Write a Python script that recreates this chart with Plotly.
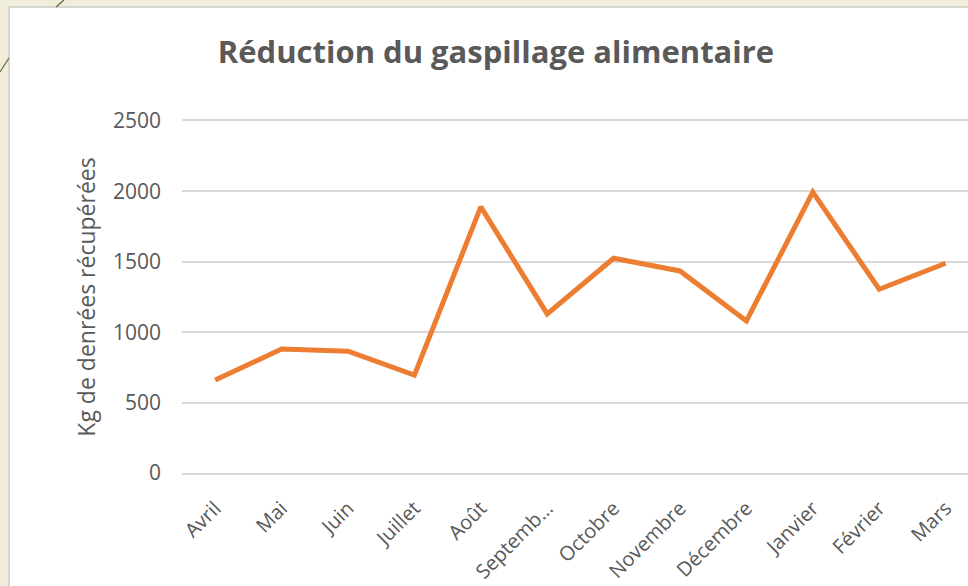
import plotly.graph_objects as go

# Monthly food recovered (kg)
months = ["Avril", "Mai", "Juin", "Juillet", "Août", "Septemb…", "Octobre",
          "Novembre", "Décembre", "Janvier", "Février", "Mars"]
kg_recovered = [660, 880, 865, 695, 1890, 1130, 1525, 1435, 1080, 1995, 1305, 1490]
y_ticks = [0, 500, 1000, 1500, 2000, 2500]

W, H = 968, 586
L, R, T, B = 182, 0, 121, 113
pw, ph = W - L - R, H - T - B


def px_x(x):
    return (x - L) / pw


def px_y(y):
    return (H - B - y) / ph


fig = go.Figure()

fig.add_trace(go.Scatter(
    x=list(range(len(months))),
    y=kg_recovered,
    mode="lines",
    line=dict(color="#ED7D31", width=5),
    hoverinfo="y",
))

# slide background: white chart box on a beige slide
shapes = [
    dict(type="rect", xref="paper", yref="paper", layer="below",
         x0=px_x(9), x1=px_x(975), y0=px_y(595), y1=px_y(7),
         fillcolor="white", line=dict(color="#d6d6d0", width=2)),
    dict(type="line", xref="paper", yref="paper",
         x0=px_x(0), y0=px_y(72), x1=px_x(9), y1=px_y(58),
         line=dict(color="#5b6b3c", width=1.2)),
    dict(type="line", xref="paper", yref="paper",
         x0=px_x(56), y0=px_y(7), x1=px_x(64), y1=px_y(0),
         line=dict(color="#5b6b3c", width=1.2)),
]

fig.update_layout(
    width=W, height=H,
    margin=dict(l=L, r=R, t=T, b=B, autoexpand=False),
    paper_bgcolor="#F2ECDA",
    plot_bgcolor="white",
    shapes=shapes,
    showlegend=False,
    font=dict(family="Open Sans", color="#595959"),
    title=dict(
        text="<b>Réduction du gaspillage alimentaire</b>",
        x=496 / W, xanchor="center",
        y=1 - 52 / H, yanchor="middle",
        font=dict(size=31, color="#595959"),
    ),
    xaxis=dict(
        tickmode="array",
        tickvals=list(range(len(months))),
        ticktext=months,
        tickangle=-45,
        range=[-0.5, -0.5 + pw / 66.4],
        showgrid=False,
        zeroline=False,
        # bottom/top lines stand in for the 0 and 2500 gridlines
        showline=True,
        mirror=True,
        linecolor="#D9D9D9",
        linewidth=1.5,
        tickfont=dict(size=20, color="#595959"),
        ticks="",
        ticklabelstandoff=14,
        automargin=False,
    ),
    yaxis=dict(
        range=[0, 2500],
        tickvals=y_ticks,
        showgrid=True,
        gridcolor="#D9D9D9",
        gridwidth=1.5,
        zeroline=False,
        tickfont=dict(size=21, color="#595959"),
        ticklabelstandoff=20,
        automargin=False,
        title=dict(text="Kg de denrées récupérées",
                   font=dict(size=23, color="#595959"), standoff=10),
    ),
)

# drop the default 8px page margin so the figure sits at the window corner
fig.write_html("out.html", config={"displayModeBar": False},
               post_script="document.body.style.margin='0';")
